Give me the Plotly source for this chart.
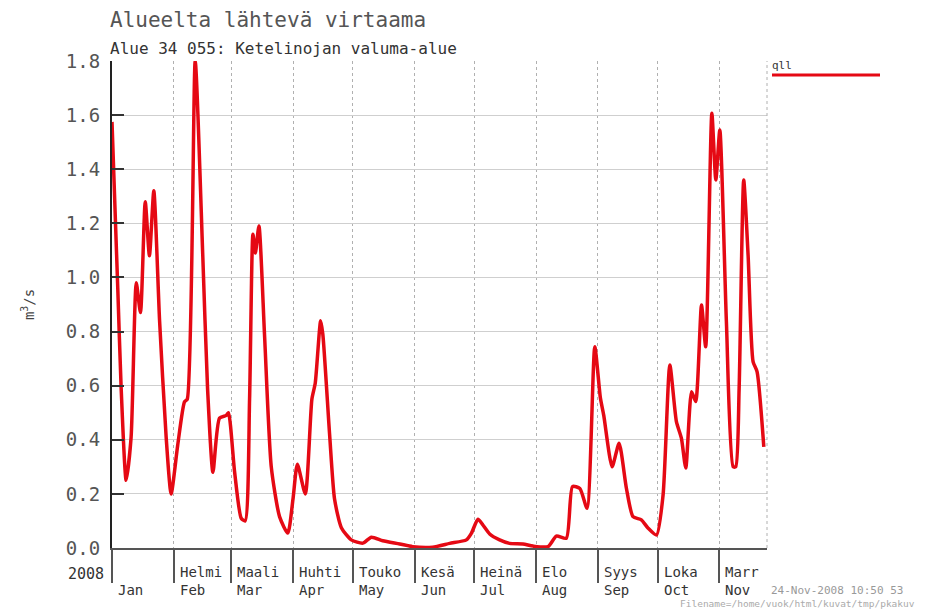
import pandas as pd
import plotly.graph_objects as go

# ---- data ----
day_offsets = [0, 2.9, 4.6, 7.1, 9.6, 12.2, 14.3, 16.7, 18.8, 21, 23.9, 27.2, 29.7,
               33, 36.4, 37.8, 41.8, 45.6, 48, 50.7, 54, 57.4, 58.5, 61.6, 64.9,
               66.9, 69.1, 70.8, 72, 73.8, 76.6, 80, 84.2, 88.3, 90.9, 93.1, 97.1,
               100.4, 102.1, 104.8, 105.9, 109.3, 111.8, 115.2, 120.2, 126, 130.3,
               136, 144.5, 151, 161, 169.6, 178, 180.5, 183.8, 186.3, 189.7, 194.7,
               199.7, 206.4, 211.5, 219, 223.2, 228.2, 231.3, 235, 238.6, 242.5,
               245.3, 247, 251.2, 254.7, 258.4, 261.7, 265.9, 269.2, 273.5, 276.8,
               280.2, 283.5, 286, 288.2, 291.1, 293.2, 296.1, 298.2, 301.3, 303.3,
               305.3, 308.6, 312, 313.3, 315, 317.3, 319.5, 322, 324, 327.4]
flow_qll = [1.575, 0.96, 0.59, 0.25, 0.41, 0.98, 0.87, 1.28, 1.08, 1.32, 0.84, 0.41, 0.20,
            0.38, 0.54, 0.55, 1.80, 1.08, 0.59, 0.28, 0.48, 0.49, 0.50, 0.28, 0.11,
            0.10, 0.55, 1.16, 1.09, 1.19, 0.79, 0.30, 0.115, 0.055, 0.18, 0.31, 0.20,
            0.55, 0.61, 0.84, 0.79, 0.42, 0.18, 0.075, 0.03, 0.018, 0.04,
            0.027, 0.015, 0.005, 0.003, 0.017, 0.03, 0.054, 0.106, 0.085, 0.052, 0.03,
            0.017, 0.015, 0.007, 0.005, 0.044, 0.036, 0.227, 0.22, 0.147, 0.744,
            0.555, 0.49, 0.30, 0.387, 0.22, 0.116, 0.104, 0.074, 0.048, 0.196,
            0.676, 0.467, 0.406, 0.296, 0.578, 0.541, 0.898, 0.744, 1.607, 1.36,
            1.545, 0.837, 0.30, 0.30, 0.59, 1.36, 1.083, 0.689, 0.652, 0.374]

month_starts = ["2008-01-01", "2008-02-01", "2008-03-01", "2008-04-01", "2008-05-01",
                "2008-06-01", "2008-07-01", "2008-08-01", "2008-09-01", "2008-10-01",
                "2008-11-01"]
month_fi = ["", "Helmi", "Maali", "Huhti", "Touko", "Kesä", "Heinä", "Elo", "Syys", "Loka", "Marr"]
month_en = ["Jan", "Feb", "Mar", "Apr", "May", "Jun", "Jul", "Aug", "Sep", "Oct", "Nov"]
y_ticks = [0.0, 0.2, 0.4, 0.6, 0.8, 1.0, 1.2, 1.4, 1.6, 1.8]

start = pd.Timestamp("2008-01-01")
dates = [start + pd.Timedelta(days=d) for d in day_offsets]

# ---- layout geometry ----
W, H = 945, 609
L, R, T, B = 112, 178, 61, 61
PW, PH = W - L - R, H - T - B
MONO = "DejaVu Sans Mono"
RED = "#e50914"


def px(xp):
    return (xp - L) / PW


def py(yp):
    return (H - B - yp) / PH


fig = go.Figure()
fig.add_trace(go.Scatter(x=dates, y=flow_qll, mode="lines", name="qll",
                         line=dict(color=RED, width=3.5, shape="spline", smoothing=0.6),
                         showlegend=False))

fig.update_layout(
    width=W, height=H,
    margin=dict(l=L, r=R, t=T, b=B),
    paper_bgcolor="white", plot_bgcolor="white",
    font=dict(family=MONO, color="#444"),
    xaxis=dict(
        type="date",
        range=[start, start + pd.Timedelta(days=329)],
        tickvals=month_starts,
        showticklabels=False,
        ticks="outside", ticklen=33, tickwidth=1.5, tickcolor="#555",
        showgrid=True, gridcolor="#b0b0b0", griddash="dot", gridwidth=1,
        showline=True, linecolor="#555", linewidth=2,
        zeroline=False,
    ),
    yaxis=dict(
        range=[0, 1.8],
        tickvals=y_ticks,
        ticktext=[f"{v:.1f}" for v in y_ticks],
        tickfont=dict(family=MONO, size=19, color="#555"),
        ticks="inside", ticklen=12, tickwidth=1.5, tickcolor="#333",
        ticklabelstandoff=6,
        showgrid=True, gridcolor="#cfcfcf", gridwidth=1,
        showline=True, linecolor="#222", linewidth=2,
        zeroline=False,
        title=dict(text="m<sup>3</sup>/s", font=dict(family=MONO, size=14, color="#444"), standoff=28),
    ),
)

ann = []
# titles
ann.append(dict(text="Alueelta lähtevä virtaama", xref="paper", yref="paper", x=px(108), y=py(20),
                xanchor="left", yanchor="middle", showarrow=False,
                font=dict(family=MONO, size=21, color="#555")))
ann.append(dict(text="Alue 34 055: Ketelinojan valuma-alue", xref="paper", yref="paper", x=px(108), y=py(48),
                xanchor="left", yanchor="middle", showarrow=False,
                font=dict(family=MONO, size=16, color="#333")))
# month labels (two lines: Finnish above, English below)
for m, fi, en in zip(month_starts, month_fi, month_en):
    if fi:
        ann.append(dict(text=f"{fi}<br>{en}", x=m, xref="x", yref="paper", y=py(563), xanchor="left",
                        yanchor="top", align="left", xshift=5, borderpad=0, showarrow=False,
                        font=dict(family=MONO, size=14, color="#333")))
    else:
        ann.append(dict(text=en, x=m, xref="x", yref="paper", y=py(581), xanchor="left",
                        yanchor="top", align="left", xshift=5, borderpad=0, showarrow=False,
                        font=dict(family=MONO, size=14, color="#333")))
ann.append(dict(text="2008", xref="paper", yref="paper", x=px(106), y=py(574), xanchor="right",
                yanchor="middle", showarrow=False, font=dict(family=MONO, size=15, color="#333")))
# legend text
ann.append(dict(text="qll", xref="paper", yref="paper", x=px(770), y=py(65), xanchor="left",
                yanchor="middle", showarrow=False, font=dict(family=MONO, size=11, color="#333")))
# footer
ann.append(dict(text="24-Nov-2008 10:50 53", xref="paper", yref="paper", x=px(770), y=py(590),
                xanchor="left", yanchor="middle", borderpad=0, showarrow=False,
                font=dict(family=MONO, size=11, color="#999")))
ann.append(dict(text="Filename=/home/vuok/html/kuvat/tmp/pkakuv", xref="paper", yref="paper", x=px(679),
                y=py(603.5), xanchor="left", yanchor="middle", borderpad=0, showarrow=False,
                font=dict(family=MONO, size=9.5, color="#aaa")))
fig.update_layout(annotations=ann)

fig.update_layout(shapes=[
    # right dotted border
    dict(type="line", xref="paper", yref="paper", x0=1, x1=1, y0=0, y1=1,
         line=dict(color="#b0b0b0", width=1, dash="dot")),
    # legend line sample
    dict(type="line", xref="paper", yref="paper", x0=px(772), x1=px(880), y0=py(75), y1=py(75),
         line=dict(color=RED, width=3)),
])

fig.write_html("out.html", config={"displayModeBar": False},
               post_script="document.body.style.margin='0';document.body.style.overflow='hidden';")
